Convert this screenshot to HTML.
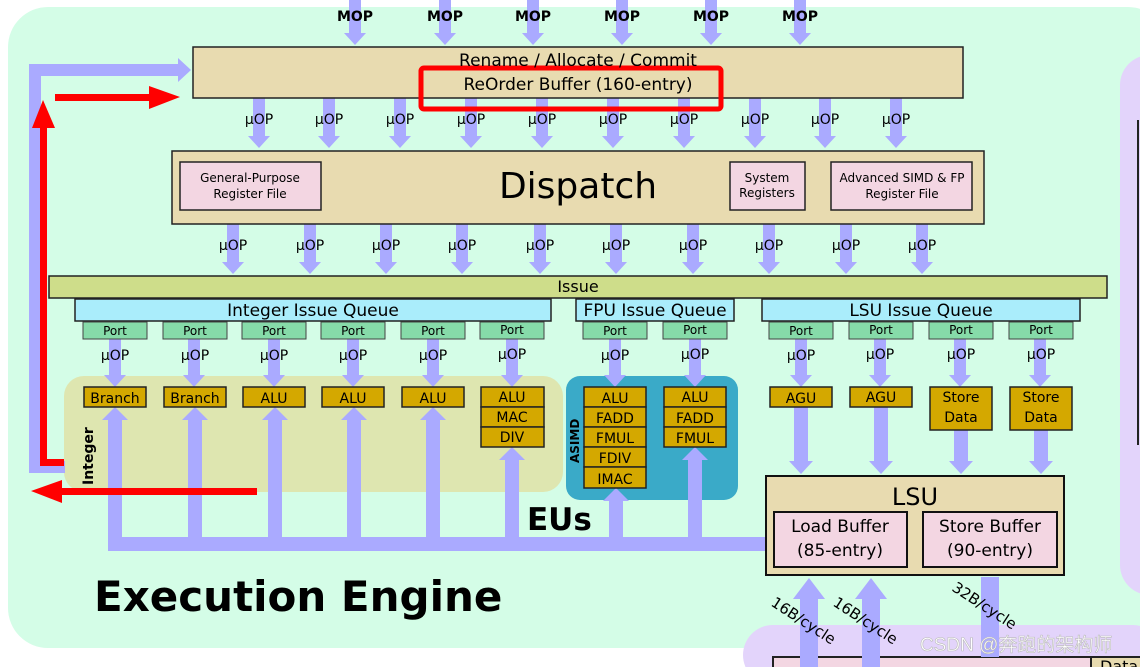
<!DOCTYPE html>
<html><head><meta charset="utf-8"><style>
html,body{margin:0;padding:0;background:#fff;width:1140px;height:667px;overflow:hidden;}
svg{display:block;font-family:"DejaVu Sans","Liberation Sans",sans-serif;}
</style></head><body>
<svg width="1140" height="667" viewBox="0 0 1140 667" xmlns="http://www.w3.org/2000/svg">
<!-- green region -->
<rect x="8" y="7" width="1160" height="641" rx="40" fill="#d4fde7"/>
<!-- right lavender -->
<rect x="1120" y="55" width="60" height="540" rx="30" fill="#e3d4fb"/>
<line x1="1138" y1="120" x2="1138" y2="445" stroke="#222" stroke-width="2"/>
<!-- bottom lavender -->
<rect x="743" y="625" width="420" height="60" rx="30" fill="#e3d4fb"/>
<rect x="773" y="657" width="318" height="15" fill="#f3d6e2" stroke="#222" stroke-width="2"/>
<rect x="1091" y="657" width="60" height="15" fill="#e8dbb0" stroke="#222" stroke-width="2"/>
<text x="1100" y="672" font-size="16">Data</text>

<!-- regions -->
<rect x="64" y="376" width="499" height="116" rx="20" fill="#dee6b0"/>
<rect x="566" y="376" width="172" height="124" rx="14" fill="#3aaac8"/>

<g fill="#aaaaff">
<g id="mop">
<rect x="349" y="0" width="12" height="33"/><polygon points="344,33 366,33 355,45"/>
</g>
<use href="#mop" x="90"/><use href="#mop" x="178"/><use href="#mop" x="267"/><use href="#mop" x="356"/><use href="#mop" x="445"/>
<g id="u1"><rect x="253" y="98" width="12" height="38"/><polygon points="248,136 270,136 259,148"/></g>
<use href="#u1" x="70"/><use href="#u1" x="141"/><use href="#u1" x="212"/><use href="#u1" x="283"/><use href="#u1" x="354"/><use href="#u1" x="425"/><use href="#u1" x="496"/><use href="#u1" x="566"/><use href="#u1" x="637"/>
<g id="u2"><rect x="227" y="224" width="12" height="38"/><polygon points="222,262 244,262 233,274"/></g>
<use href="#u2" x="77"/><use href="#u2" x="153"/><use href="#u2" x="229"/><use href="#u2" x="307"/><use href="#u2" x="383"/><use href="#u2" x="460"/><use href="#u2" x="536"/><use href="#u2" x="613"/><use href="#u2" x="689"/>
<g id="u3"><rect x="109" y="339" width="12" height="36"/><polygon points="104,375 126,375 115,387"/></g>
<use href="#u3" x="79"/><use href="#u3" x="159"/><use href="#u3" x="238"/><use href="#u3" x="318"/><use href="#u3" x="397"/><use href="#u3" x="500"/><use href="#u3" x="580"/><use href="#u3" x="686"/><use href="#u3" x="765"/><use href="#u3" x="845"/><use href="#u3" x="925"/>
<rect x="108" y="537" width="660" height="14"/>
<g id="up"><rect x="108" y="419" width="14" height="125"/><polygon points="102,420 128,420 115,407"/></g>
<use href="#up" x="80"/><use href="#up" x="160"/><use href="#up" x="239"/><use href="#up" x="318"/>
<rect x="505" y="459" width="14" height="85"/><polygon points="499,460 525,460 512,447"/>
<rect x="609" y="500" width="14" height="44"/><polygon points="603,501 629,501 616,488"/>
<rect x="688" y="459" width="14" height="85"/><polygon points="682,460 708,460 695,447"/>
<rect x="794" y="407" width="14" height="55"/><polygon points="789,461 813,461 801,474"/>
<rect x="874" y="407" width="14" height="55"/><polygon points="869,461 893,461 881,474"/>
<rect x="954" y="430" width="14" height="32"/><polygon points="949,461 973,461 961,474"/>
<rect x="1034" y="430" width="14" height="32"/><polygon points="1029,461 1053,461 1041,474"/>
<rect x="800" y="598" width="18" height="69"/><polygon points="793,599 825,599 809,578"/>
<rect x="862" y="598" width="18" height="69"/><polygon points="855,599 887,599 871,578"/>
<rect x="981" y="577" width="18" height="80"/>
<rect x="29" y="65" width="12" height="408"/>
<rect x="29" y="461" width="36" height="12"/>
<rect x="29" y="64" width="150" height="12"/><polygon points="178,58 178,82 191,70"/>
</g>

<g fill="#f00">
<rect x="40" y="125" width="7" height="341"/><polygon points="32,128 55,128 43,100"/>
<rect x="40" y="459" width="24" height="7"/>
<rect x="55" y="94" width="95" height="7"/><polygon points="149,86 149,109 180,97"/>
<rect x="62" y="488" width="195" height="7"/><polygon points="62,480 62,503 31,491"/>
</g>

<g stroke="#222" stroke-width="1.5">
<rect x="193" y="47" width="770" height="51" fill="#e8dbb0"/>
<rect x="172" y="151" width="812" height="73" fill="#e8dbb0"/>
<rect x="180" y="162" width="141" height="48" fill="#f3d6e2"/>
<rect x="730" y="162" width="75" height="48" fill="#f3d6e2"/>
<rect x="831" y="162" width="141" height="48" fill="#f3d6e2"/>
<rect x="49" y="276" width="1058" height="22" fill="#cedd8a"/>
<rect x="75" y="299" width="476" height="22" fill="#aaedfb"/>
<rect x="576" y="299" width="158" height="22" fill="#aaedfb"/>
<rect x="762" y="299" width="318" height="22" fill="#aaedfb"/>
</g>
<rect x="421" y="68" width="300" height="41" fill="none" stroke="#f00" stroke-width="5" rx="3"/>
<g stroke="#444" stroke-width="1" fill="#86dba9">
<rect x="83" y="322" width="64" height="17"/><rect x="163" y="322" width="64" height="17"/><rect x="242" y="322" width="64" height="17"/><rect x="321" y="322" width="64" height="17"/><rect x="401" y="322" width="64" height="17"/><rect x="480" y="322" width="64" height="17"/>
<rect x="583" y="322" width="64" height="17"/><rect x="663" y="322" width="64" height="17"/>
<rect x="769" y="322" width="64" height="17"/><rect x="849" y="322" width="64" height="17"/><rect x="929" y="322" width="64" height="17"/><rect x="1009" y="322" width="64" height="17"/>
</g>
<g stroke="#222" stroke-width="1.5" fill="#d4a800">
<rect x="84" y="387" width="62" height="20"/><rect x="164" y="387" width="62" height="20"/><rect x="243" y="387" width="62" height="20"/><rect x="322" y="387" width="62" height="20"/><rect x="402" y="387" width="62" height="20"/>
<rect x="481" y="387" width="63" height="20"/><rect x="481" y="407" width="63" height="20"/><rect x="481" y="427" width="63" height="20"/>
<rect x="584" y="387" width="62" height="20"/><rect x="584" y="407" width="62" height="20"/><rect x="584" y="427" width="62" height="20"/><rect x="584" y="447" width="62" height="20"/><rect x="584" y="467" width="62" height="21"/>
<rect x="664" y="387" width="62" height="20"/><rect x="664" y="407" width="62" height="20"/><rect x="664" y="427" width="62" height="20"/>
<rect x="770" y="387" width="62" height="20"/><rect x="850" y="387" width="62" height="20"/>
<rect x="930" y="387" width="62" height="43"/><rect x="1010" y="387" width="62" height="43"/>
</g>
<rect x="766" y="476" width="298" height="99" fill="#e8dbb0" stroke="#111" stroke-width="2"/>
<rect x="774" y="512" width="133" height="55" fill="#f3d6e2" stroke="#111" stroke-width="2"/>
<rect x="923" y="512" width="134" height="55" fill="#f3d6e2" stroke="#111" stroke-width="2"/>

<g font-size="14" font-weight="bold" text-anchor="middle">
<text x="355" y="21">MOP</text><text x="445" y="21">MOP</text><text x="533" y="21">MOP</text><text x="622" y="21">MOP</text><text x="711" y="21">MOP</text><text x="800" y="21">MOP</text>
</g>
<g font-size="14" text-anchor="middle" fill="#000">
<text x="259" y="124">µOP</text><text x="329" y="124">µOP</text><text x="400" y="124">µOP</text><text x="471" y="124">µOP</text><text x="542" y="124">µOP</text><text x="613" y="124">µOP</text><text x="684" y="124">µOP</text><text x="755" y="124">µOP</text><text x="825" y="124">µOP</text><text x="896" y="124">µOP</text>
<text x="233" y="250">µOP</text><text x="310" y="250">µOP</text><text x="386" y="250">µOP</text><text x="462" y="250">µOP</text><text x="540" y="250">µOP</text><text x="616" y="250">µOP</text><text x="693" y="250">µOP</text><text x="769" y="250">µOP</text><text x="846" y="250">µOP</text><text x="922" y="250">µOP</text>
<text x="115" y="360">µOP</text><text x="195" y="360">µOP</text><text x="274" y="360">µOP</text><text x="353" y="360">µOP</text><text x="433" y="360">µOP</text><text x="512" y="359">µOP</text><text x="615" y="360">µOP</text><text x="695" y="359">µOP</text><text x="801" y="360">µOP</text><text x="880" y="359">µOP</text><text x="961" y="359">µOP</text><text x="1041" y="359">µOP</text>
</g>
<g text-anchor="middle">
<text x="578" y="66" font-size="17">Rename / Allocate / Commit</text>
<text x="578" y="90" font-size="17">ReOrder Buffer (160-entry)</text>
<text x="578" y="198" font-size="36">Dispatch</text>
<text x="250" y="182" font-size="12">General-Purpose</text><text x="250" y="198" font-size="12">Register File</text>
<text x="767" y="182" font-size="12">System</text><text x="767" y="197" font-size="12">Registers</text>
<text x="902" y="182" font-size="12">Advanced SIMD &amp; FP</text><text x="902" y="198" font-size="12">Register File</text>
<text x="578" y="292" font-size="16">Issue</text>
<text x="313" y="316" font-size="17">Integer Issue Queue</text>
<text x="655" y="316" font-size="17">FPU Issue Queue</text>
<text x="921" y="316" font-size="17">LSU Issue Queue</text>
</g>
<g text-anchor="middle" font-size="12">
<text x="115" y="335">Port</text><text x="195" y="335">Port</text><text x="274" y="335">Port</text><text x="353" y="335">Port</text><text x="433" y="335">Port</text><text x="512" y="334">Port</text>
<text x="615" y="335">Port</text><text x="695" y="334">Port</text>
<text x="801" y="335">Port</text><text x="881" y="334">Port</text><text x="961" y="334">Port</text><text x="1041" y="334">Port</text>
</g>
<g text-anchor="middle" font-size="14">
<text x="115" y="403">Branch</text><text x="195" y="403">Branch</text><text x="274" y="403">ALU</text><text x="353" y="403">ALU</text><text x="433" y="403">ALU</text>
<text x="512" y="402">ALU</text><text x="512" y="422">MAC</text><text x="512" y="442">DIV</text>
<text x="615" y="403">ALU</text><text x="615" y="423">FADD</text><text x="615" y="443">FMUL</text><text x="615" y="463">FDIV</text><text x="615" y="484">IMAC</text>
<text x="695" y="402">ALU</text><text x="695" y="423">FADD</text><text x="695" y="443">FMUL</text>
<text x="801" y="403">AGU</text><text x="881" y="402">AGU</text>
<text x="961" y="402">Store</text><text x="961" y="422">Data</text><text x="1041" y="402">Store</text><text x="1041" y="422">Data</text>
</g>
<text x="915" y="505" font-size="24" text-anchor="middle">LSU</text>
<g text-anchor="middle" font-size="17">
<text x="840" y="532">Load Buffer</text><text x="840" y="556">(85-entry)</text>
<text x="990" y="532">Store Buffer</text><text x="990" y="556">(90-entry)</text>
</g>
<text transform="translate(93,485) rotate(-90)" font-size="14" font-weight="bold">Integer</text>
<text transform="translate(579,463) rotate(-90)" font-size="12" font-weight="bold">ASIMD</text>
<text x="527" y="530" font-size="31" font-weight="bold">EUs</text>
<text x="94" y="611" font-size="42" font-weight="bold">Execution Engine</text>
<g font-size="15">
<text transform="translate(770,605) rotate(33)">16B/cycle</text>
<text transform="translate(832,605) rotate(33)">16B/cycle</text>
<text transform="translate(951,590) rotate(33)">32B/cycle</text>
</g>
<text x="920" y="651" font-size="19" fill="#fff" stroke="#bbb" stroke-width="0.6" font-family="'Liberation Sans','Noto Sans CJK SC',sans-serif">CSDN @奔跑的架构师</text>
</svg>
</body></html>
